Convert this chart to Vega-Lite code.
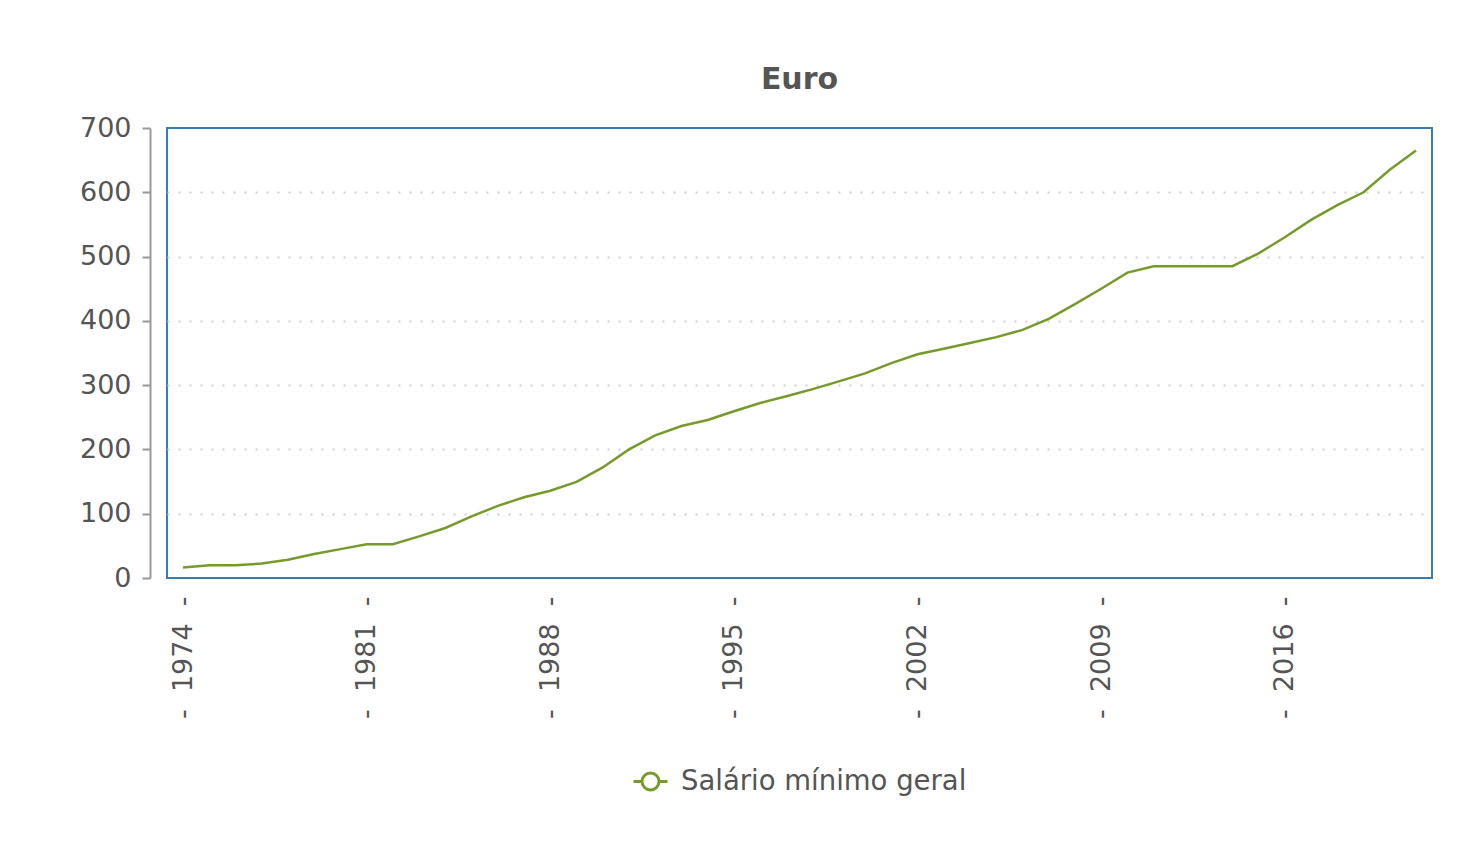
{
  "$schema": "https://vega.github.io/schema/vega-lite/v6.json",
  "autosize": {"type": "none"},
  "width": 1265,
  "height": 450,
  "padding": {"left": 167, "top": 128, "right": 25, "bottom": 281},
  "background": "white",
  "title": {
    "text": "Euro",
    "anchor": "middle",
    "font": "DejaVu Sans",
    "fontSize": 30,
    "fontWeight": "bold",
    "color": "#555555",
    "offset": 19
  },
  "config": {
    "view": {"stroke": "#3a7db3", "strokeWidth": 2},
    "font": "DejaVu Sans",
    "legend": {"layout": {"bottom": {"anchor": "middle"}}}
  },
  "data": {
    "values": [
      {"ano": 1974, "valor": 16.5, "serie": "Salário mínimo geral"},
      {"ano": 1975, "valor": 20.0, "serie": "Salário mínimo geral"},
      {"ano": 1976, "valor": 20.0, "serie": "Salário mínimo geral"},
      {"ano": 1977, "valor": 22.4, "serie": "Salário mínimo geral"},
      {"ano": 1978, "valor": 28.4, "serie": "Salário mínimo geral"},
      {"ano": 1979, "valor": 37.4, "serie": "Salário mínimo geral"},
      {"ano": 1980, "valor": 44.9, "serie": "Salário mínimo geral"},
      {"ano": 1981, "valor": 52.4, "serie": "Salário mínimo geral"},
      {"ano": 1982, "valor": 52.4, "serie": "Salário mínimo geral"},
      {"ano": 1983, "valor": 64.8, "serie": "Salário mínimo geral"},
      {"ano": 1984, "valor": 77.8, "serie": "Salário mínimo geral"},
      {"ano": 1985, "valor": 95.8, "serie": "Salário mínimo geral"},
      {"ano": 1986, "valor": 112.2, "serie": "Salário mínimo geral"},
      {"ano": 1987, "valor": 125.7, "serie": "Salário mínimo geral"},
      {"ano": 1988, "valor": 135.7, "serie": "Salário mínimo geral"},
      {"ano": 1989, "valor": 149.6, "serie": "Salário mínimo geral"},
      {"ano": 1990, "valor": 172.0, "serie": "Salário mínimo geral"},
      {"ano": 1991, "valor": 200.0, "serie": "Salário mínimo geral"},
      {"ano": 1992, "valor": 222.0, "serie": "Salário mínimo geral"},
      {"ano": 1993, "valor": 236.4, "serie": "Salário mínimo geral"},
      {"ano": 1994, "valor": 245.9, "serie": "Salário mínimo geral"},
      {"ano": 1995, "valor": 259.4, "serie": "Salário mínimo geral"},
      {"ano": 1996, "valor": 272.3, "serie": "Salário mínimo geral"},
      {"ano": 1997, "valor": 282.8, "serie": "Salário mínimo geral"},
      {"ano": 1998, "valor": 293.8, "serie": "Salário mínimo geral"},
      {"ano": 1999, "valor": 305.8, "serie": "Salário mínimo geral"},
      {"ano": 2000, "valor": 318.2, "serie": "Salário mínimo geral"},
      {"ano": 2001, "valor": 334.2, "serie": "Salário mínimo geral"},
      {"ano": 2002, "valor": 348.0, "serie": "Salário mínimo geral"},
      {"ano": 2003, "valor": 356.6, "serie": "Salário mínimo geral"},
      {"ano": 2004, "valor": 365.6, "serie": "Salário mínimo geral"},
      {"ano": 2005, "valor": 374.7, "serie": "Salário mínimo geral"},
      {"ano": 2006, "valor": 385.9, "serie": "Salário mínimo geral"},
      {"ano": 2007, "valor": 403.0, "serie": "Salário mínimo geral"},
      {"ano": 2008, "valor": 426.0, "serie": "Salário mínimo geral"},
      {"ano": 2009, "valor": 450.0, "serie": "Salário mínimo geral"},
      {"ano": 2010, "valor": 475.0, "serie": "Salário mínimo geral"},
      {"ano": 2011, "valor": 485.0, "serie": "Salário mínimo geral"},
      {"ano": 2012, "valor": 485.0, "serie": "Salário mínimo geral"},
      {"ano": 2013, "valor": 485.0, "serie": "Salário mínimo geral"},
      {"ano": 2014, "valor": 485.0, "serie": "Salário mínimo geral"},
      {"ano": 2015, "valor": 505.0, "serie": "Salário mínimo geral"},
      {"ano": 2016, "valor": 530.0, "serie": "Salário mínimo geral"},
      {"ano": 2017, "valor": 557.0, "serie": "Salário mínimo geral"},
      {"ano": 2018, "valor": 580.0, "serie": "Salário mínimo geral"},
      {"ano": 2019, "valor": 600.0, "serie": "Salário mínimo geral"},
      {"ano": 2020, "valor": 635.0, "serie": "Salário mínimo geral"},
      {"ano": 2021, "valor": 665.0, "serie": "Salário mínimo geral"}
    ]
  },
  "mark": {"type": "line", "strokeWidth": 2.5},
  "encoding": {
    "x": {
      "field": "ano",
      "type": "quantitative",
      "scale": {"domain": [1973.39, 2021.61], "nice": false, "zero": false},
      "axis": {
        "title": null,
        "values": [1974, 1981, 1988, 1995, 2002, 2009, 2016],
        "format": "d",
        "labelExpr": "'-\u00a0\u00a0' + datum.label + '\u00a0\u00a0-'",
        "labelAngle": -90,
        "labelAlign": "right",
        "labelBaseline": "middle",
        "labelFont": "DejaVu Sans",
        "labelFontSize": 27,
        "labelColor": "#555555",
        "labelPadding": 18,
        "labelLimit": 400,
        "ticks": false,
        "domain": false,
        "grid": false
      }
    },
    "y": {
      "field": "valor",
      "type": "quantitative",
      "scale": {"domain": [0, 700], "nice": false},
      "axis": {
        "title": null,
        "values": [0, 100, 200, 300, 400, 500, 600, 700],
        "offset": 17,
        "domainColor": "#999999",
        "domainWidth": 2,
        "tickColor": "#999999",
        "tickWidth": 2,
        "tickSize": 8,
        "labelFont": "DejaVu Sans",
        "labelFontSize": 27,
        "labelColor": "#555555",
        "labelPadding": 11,
        "grid": true,
        "gridColor": {"condition": {"test": "datum.value == 0 || datum.value == 700", "value": "transparent"}, "value": "#d0d0d0"},
        "gridWidth": 2,
        "gridDash": [2, 9]
      }
    },
    "color": {
      "field": "serie",
      "type": "nominal",
      "scale": {"range": ["#779a2c"]},
      "legend": {
        "title": null,
        "orient": "bottom",
        "direction": "horizontal",
        "offset": 44,
        "labelFont": "DejaVu Sans",
        "labelFontSize": 27.5,
        "labelColor": "#555555",
        "labelLimit": 600,
        "labelOffset": 12,
        "symbolType": "M-1,0L-0.5,0M0.5,0L1,0M0.5,0A0.5,0.5,0,1,1,-0.5,0A0.5,0.5,0,1,1,0.5,0",
        "symbolSize": 1156,
        "symbolStrokeWidth": 3,
        "symbolFillColor": "transparent"
      }
    }
  }
}
